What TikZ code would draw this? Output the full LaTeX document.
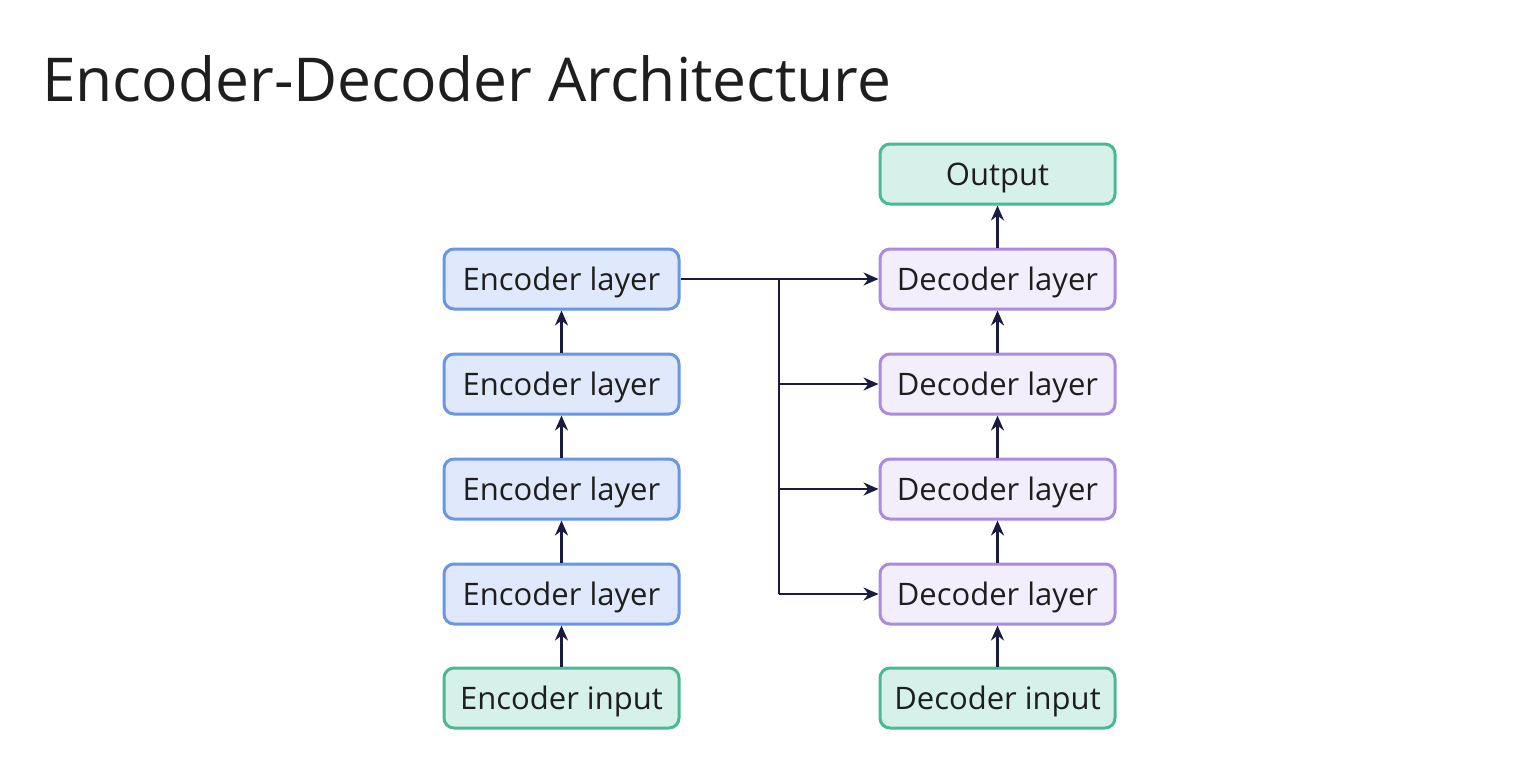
\documentclass[tikz,border=0pt]{standalone}
\usepackage{fontspec}
\setmainfont{Open Sans}
\usetikzlibrary{arrows.meta}
\definecolor{encfill}{HTML}{E0E8FB}
\definecolor{encdraw}{HTML}{6A96E6}
\definecolor{decfill}{HTML}{F2EEFC}
\definecolor{decdraw}{HTML}{A98BE0}
\definecolor{iofill}{HTML}{D6F1E9}
\definecolor{iodraw}{HTML}{4DB894}
\definecolor{arr}{HTML}{1B1B3F}
\definecolor{txt}{HTML}{1E1E1E}
\tikzset{
  box/.style={rounded corners=10pt, line width=3pt, minimum width=235pt, minimum height=60pt, inner sep=0pt, text depth=0pt, font=\fontsize{31}{36}\selectfont, text=txt},
  encbox/.style={box, fill=encfill, draw=encdraw},
  decbox/.style={box, fill=decfill, draw=decdraw},
  iobox/.style={box, fill=iofill, draw=iodraw},
  conn/.style={draw=arr, line width=2.5pt, -{Stealth[length=15pt,width=13pt]}},
  plain/.style={draw=arr, line width=2.5pt}
}
\begin{document}
\begin{tikzpicture}[x=1pt,y=-1pt]
\useasboundingbox (0,0) rectangle (1518,768);
\node[anchor=base west, font=\fontsize{60.5}{70}\selectfont, text=txt, inner sep=0pt] (title) at (42,102) {Encoder-Decoder Architecture};
\node[iobox] (ein) at (561.5,698) {Encoder input};
\node[encbox] (e1) at (561.5,594) {Encoder layer};
\node[encbox] (e2) at (561.5,489) {Encoder layer};
\node[encbox] (e3) at (561.5,384) {Encoder layer};
\node[encbox] (e4) at (561.5,279) {Encoder layer};
\node[iobox] (din) at (997.5,698) {Decoder input};
\node[decbox] (d1) at (997.5,594) {Decoder layer};
\node[decbox] (d2) at (997.5,489) {Decoder layer};
\node[decbox] (d3) at (997.5,384) {Decoder layer};
\node[decbox] (d4) at (997.5,279) {Decoder layer};
\node[iobox] (out) at (997.5,174) {Output};
\draw[conn] (ein) -- (e1);
\draw[conn] (e1) -- (e2);
\draw[conn] (e2) -- (e3);
\draw[conn] (e3) -- (e4);
\draw[conn] (din) -- (d1);
\draw[conn] (d1) -- (d2);
\draw[conn] (d2) -- (d3);
\draw[conn] (d3) -- (d4);
\draw[conn] (d4) -- (out);
\coordinate (bx) at (779,279);
\coordinate (bb) at (779,594);
\draw[conn] (e4.east) -- (d4.west);
\draw[plain] (bx) -- (bb);
\draw[conn] (bb) -- (d1.west);
\draw[conn] (bx |- d2.west) -- (d2.west);
\draw[conn] (bx |- d3.west) -- (d3.west);
\end{tikzpicture}
\end{document}
